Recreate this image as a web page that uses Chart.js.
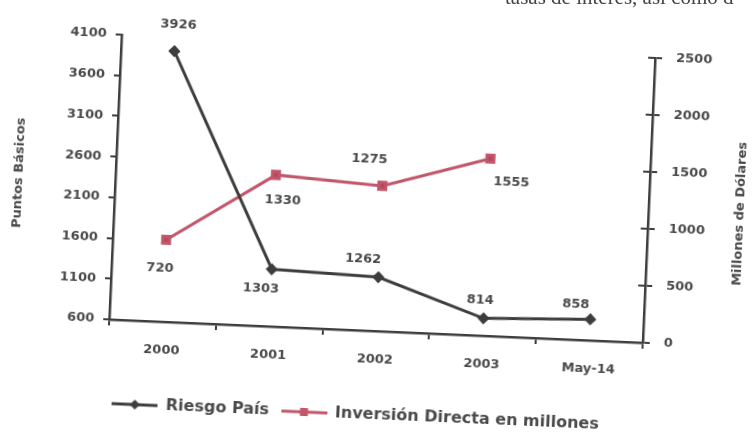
<!DOCTYPE html>
<html>
<head>
<meta charset="utf-8">
<script src="https://cdn.jsdelivr.net/npm/chart.js@4.4.0/dist/chart.umd.min.js"></script>
<style>
  html, body { margin: 0; padding: 0; background: #fff; overflow: hidden; }
  #wrap { position: relative; width: 754px; height: 433px; }
  #chart { position: absolute; left: 0; top: 0; transform: rotate(2.5deg); transform-origin: 377px 216px; }
  #topText { position: absolute; top: -15px; left: 505px; font: 21px 'Liberation Serif', serif; color: #444; white-space: nowrap; }
</style>
</head>
<body>
<div id="wrap">
  <canvas id="chart" width="754" height="433"></canvas>
  <div id="topText">tasas de interés, así como d</div>
</div>
<script>
// datos
const years = ['2000', '2001', '2002', '2003', 'May-14'];
const riesgoPais = [3926, 1303, 1262, 814, 858];
const inversion = [720, 1330, 1275, 1555, null];
const leftTicks = { min: 600, max: 4100, step: 500 };
const rightTicks = { min: 0, max: 2500, step: 500 };

// desplazamiento de las etiquetas respecto al punto (dx, dy)
const riesgoLabelOffsets = [[3, -27], [-10, 20], [-16, -17], [-4, -18], [-15, -14]];
const inversionLabelOffsets = [[-5, 29], [8, 25], [-14, -26], [22, 23], null];

const grayLine = '#3d3d3d';
const redLine = '#c2566a';
const textColor = '#4a4a4a';
const font = "'DejaVu Sans', Verdana, sans-serif";
const tickFont = { family: font, size: 13, weight: 'bold' };

// icono de la leyenda: linea con marcador
function legendIcon(color, marker) {
  let c = document.createElement('canvas');
  c.width = 46; c.height = 12;
  let g = c.getContext('2d');
  g.strokeStyle = color;
  g.lineWidth = 3;
  g.beginPath(); g.moveTo(0, 6); g.lineTo(46, 6); g.stroke();
  g.fillStyle = color;
  if (marker === 'rect') {
    g.fillRect(19, 2, 8, 8);
  } else {
    g.beginPath(); g.moveTo(23, 1); g.lineTo(28, 6); g.lineTo(23, 11); g.lineTo(18, 6); g.closePath(); g.fill();
  }
  return c;
}

const labelPlugin = {
  id: 'valueLabels',
  afterDatasetsDraw(chart) {
    let ctx = chart.ctx;
    ctx.save();
    ctx.font = 'bold 13px ' + font;
    ctx.fillStyle = textColor;
    ctx.textAlign = 'center';
    ctx.textBaseline = 'middle';
    chart.data.datasets.forEach((ds, i) => {
      let meta = chart.getDatasetMeta(i);
      meta.data.forEach((pt, j) => {
        let off = ds.labelOffsets[j];
        if (ds.data[j] == null || !off) return;
        ctx.fillText(ds.data[j], pt.x + off[0], pt.y + off[1]);
      });
    });
    // marcas del eje derecho que cruzan hacia dentro
    let r = chart.scales.y1;
    ctx.strokeStyle = grayLine;
    ctx.lineWidth = 2;
    r.ticks.forEach(t => {
      let py = r.getPixelForValue(t.value);
      ctx.beginPath(); ctx.moveTo(r.left - 7, py); ctx.lineTo(r.left, py); ctx.stroke();
    });
    // titulo del eje derecho (de abajo hacia arriba)
    ctx.translate(740, 198);
    ctx.rotate(-Math.PI / 2);
    ctx.font = 'bold 13px ' + font;
    ctx.fillText('Millones de Dólares', 0, 0);
    ctx.restore();
  }
};

let ctx = document.getElementById('chart').getContext('2d');

let chart = new Chart(ctx, {
  type: 'line',
  data: {
    labels: years,
    datasets: [{
      label: 'Riesgo País',
      data: riesgoPais,
      yAxisID: 'y',
      borderColor: grayLine,
      backgroundColor: grayLine,
      borderWidth: 3,
      pointStyle: 'rectRot',
      pointRadius: 4,
      labelOffsets: riesgoLabelOffsets,
      icon: legendIcon(grayLine, 'diamond')
    }, {
      label: 'Inversión Directa en millones',
      data: inversion,
      yAxisID: 'y1',
      borderColor: redLine,
      backgroundColor: '#b8485e',
      borderWidth: 3,
      pointStyle: 'rect',
      pointRadius: 5,
      labelOffsets: inversionLabelOffsets,
      icon: legendIcon(redLine, 'rect')
    }]
  },
  options: {
    responsive: false,
    animation: false,
    layout: { padding: { top: 46, right: 26, left: 0, bottom: 0 } },
    plugins: {
      tooltip: { enabled: false },
      legend: {
        position: 'bottom',
        labels: {
          usePointStyle: true,
          pointStyleWidth: 46,
          boxHeight: 12,
          padding: 12,
          color: textColor,
          font: { family: font, size: 16, weight: 'bold' },
          generateLabels(chart) {
            let items = Chart.defaults.plugins.legend.labels.generateLabels(chart);
            items.forEach(it => { it.pointStyle = chart.data.datasets[it.datasetIndex].icon; });
            return items;
          }
        }
      }
    },
    scales: {
      x: {
        type: 'category',
        offset: true,
        afterFit: (s) => { s.height = 64; },
        border: { display: true, color: grayLine, width: 2.5 },
        grid: { offset: true, drawOnChartArea: false, drawTicks: true, tickLength: 6, color: grayLine, lineWidth: 2 },
        ticks: { color: textColor, padding: 15, font: tickFont }
      },
      y: {
        type: 'linear',
        position: 'left',
        min: leftTicks.min,
        max: leftTicks.max,
        afterFit: (s) => { s.width = 114; },
        border: { display: true, color: grayLine, width: 2.5 },
        grid: { drawOnChartArea: false, drawTicks: true, tickLength: 6, color: grayLine, lineWidth: 2 },
        ticks: { stepSize: leftTicks.step, color: textColor, padding: 9, font: tickFont, callback: (v) => String(v) },
        title: { display: true, text: 'Puntos Básicos', color: textColor, padding: { top: 10, bottom: 0 }, font: { family: font, size: 13, weight: 'bold' } }
      },
      y1: {
        type: 'linear',
        position: 'right',
        min: rightTicks.min,
        max: rightTicks.max,
        afterFit: (s) => { s.width = 80; },
        border: { display: true, color: grayLine, width: 2.5 },
        grid: { drawOnChartArea: false, drawTicks: true, tickLength: 7, color: grayLine, lineWidth: 2 },
        ticks: { stepSize: rightTicks.step, color: textColor, padding: 14, font: tickFont, callback: (v) => String(v) }
      }
    }
  },
  plugins: [labelPlugin]
});
</script>
</body>
</html>
